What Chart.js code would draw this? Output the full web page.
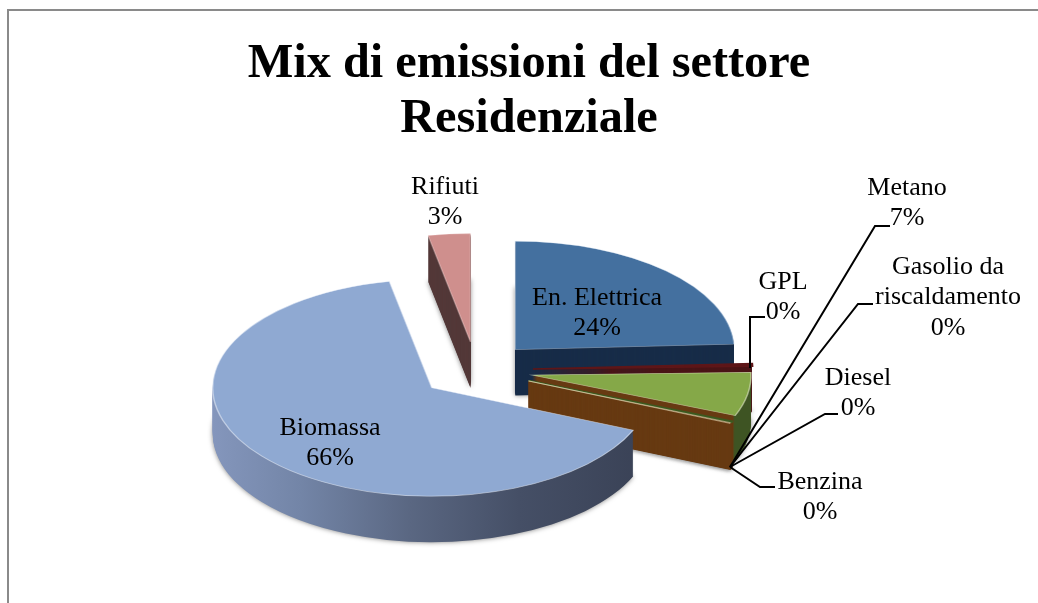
<!DOCTYPE html>
<html lang="it">
<head>
<meta charset="utf-8">
<title>Mix di emissioni del settore Residenziale</title>
<script src="https://cdn.jsdelivr.net/npm/chart.js@4"></script>
<style>html,body{margin:0;padding:0;background:#fff;overflow:hidden}canvas{display:block}</style>
</head>
<body>
<canvas id="c" width="1038" height="603"></canvas>
<script>
const titleLines = ['Mix di emissioni del settore', 'Residenziale'];
const categories = ['En. Elettrica', 'GPL', 'Metano', 'Gasolio da riscaldamento', 'Diesel', 'Benzina', 'Biomassa', 'Rifiuti'];
const values = [24.2, 0.4, 6.5, 0.1, 0.1, 0.1, 65.5, 3.1];
const topColors = ['#44709f', '#5e1618', '#85a848', '#3c5a20', '#3c5a20', '#5f3a14', '#8fa9d2', '#cf8f8d'];
const wallColors = ['#172c48', '#4a1416', null, '#673a12', '#673a12', '#673a12', null, '#533838'];
const metanoWallStops = [[0, '#673a12'], [0.915, '#673a12'], [0.925, '#3e5423'], [1, '#3e5423']];
const biomassaWallStops = [[0, '#8496bc'], [0.2, '#7385a7'], [0.45, '#5a6782'], [0.7, '#454f66'], [1, '#394155']];
const rimColors = ['rgba(220,230,245,.45)', '#5e1618', 'rgba(235,240,210,.55)', '#3c5a20', '#3c5a20', 'rgba(240,225,190,.7)', 'rgba(235,240,250,.55)', 'rgba(255,235,235,.3)'];
const rimWidths = [1.5, 3, 1.5, 3, 3, 1, 1.5, 1.5];
const wallRimWidths = [0, 0, 0, 2, 2, 2, 0, 0];
const labelLines = [['En. Elettrica', '24%'], ['GPL', '0%'], ['Metano', '7%'], ['Gasolio da', 'riscaldamento', '0%'], ['Diesel', '0%'], ['Benzina', '0%'], ['Biomassa', '66%'], ['Rifiuti', '3%']];
const labelAnchors = [[597, 298], [783, 282], [907, 188], [948, 267], [858, 378], [820, 482], [330, 428], [445, 187]];
const leaderPaths = [null, [[750, 368], [750, 317], [765, 317]], [[730, 467], [875, 226], [890, 226]], [[730, 467], [858, 304], [873, 304]], [[730, 467], [825, 414], [838, 414]], [[730, 467], [760, 487], [775, 487]], null, null];
const scene = {cx: 476, cy: 370, squash: 0.495, explode: 57, depth: 46, radius: 219};

const pie3d = {
  id: 'pie3d',
  beforeDraw(chart) {
    const c = chart.ctx;
    c.save();
    c.strokeStyle = '#8a8a8a';
    c.lineWidth = 2;
    c.beginPath();
    c.moveTo(8, 603); c.lineTo(8, 10); c.lineTo(1038, 10);
    c.stroke();
    c.restore();
  },
  beforeDatasetsDraw(chart) {
    const c = chart.ctx;
    const arcs = chart.getDatasetMeta(0).data;
    const order = [7, 0, 1, 2, 3, 4, 5, 6];
    order.forEach(i => {
      const arc = arcs[i];
      const base = arc.options;
      const mid = (arc.startAngle + arc.endAngle) / 2;
      const place = d => {
        c.translate(scene.cx, scene.cy + d);
        c.scale(1, scene.squash);
        c.translate(-arc.x + Math.cos(mid) * scene.explode, -arc.y + Math.sin(mid) * scene.explode);
      };
      let wall = wallColors[i];
      if (!wall && i === 6) {
        wall = c.createLinearGradient(arc.x - scene.radius, 0, arc.x + scene.radius, 0);
        biomassaWallStops.forEach(s => wall.addColorStop(s[0], s[1]));
      } else if (!wall) {
        wall = c.createLinearGradient(arc.x, 0, arc.x + scene.radius, 0);
        metanoWallStops.forEach(s => wall.addColorStop(s[0], s[1]));
      }
      arc.options = Object.assign({}, base, {backgroundColor: wall, borderColor: wall, borderWidth: wallRimWidths[i]});
      for (let d = scene.depth; d > 0; d--) {
        c.save();
        if (d === scene.depth) {
          c.shadowColor = 'rgba(0,0,0,.5)';
          c.shadowBlur = 5;
        }
        place(d);
        arc.draw(c);
        c.restore();
      }
      arc.options = base;
      c.save();
      place(0);
      arc.draw(c);
      c.restore();
    });
    return false;
  },
  afterDraw(chart) {
    const c = chart.ctx;
    c.save();
    c.strokeStyle = '#000';
    c.lineWidth = 2;
    c.lineJoin = 'miter';
    leaderPaths.forEach(p => {
      if (!p) return;
      c.beginPath();
      p.forEach((q, k) => k ? c.lineTo(q[0], q[1]) : c.moveTo(q[0], q[1]));
      c.stroke();
    });
    c.fillStyle = '#000';
    c.font = '26px "Liberation Serif"';
    c.textAlign = 'center';
    c.textBaseline = 'middle';
    labelLines.forEach((lines, i) => {
      lines.forEach((t, k) => c.fillText(t, labelAnchors[i][0], labelAnchors[i][1] + k * 30.5));
    });
    c.restore();
  }
};

new Chart(document.getElementById('c'), {
  type: 'pie',
  data: {
    labels: categories,
    datasets: [{
      data: values,
      backgroundColor: topColors,
      borderColor: rimColors,
      borderWidth: rimWidths,
      borderJoinStyle: 'miter'
    }]
  },
  options: {
    responsive: false,
    animation: false,
    radius: scene.radius,
    layout: {padding: {left: 20}},
    plugins: {
      legend: {display: false},
      tooltip: {enabled: false},
      title: {
        display: true,
        text: titleLines,
        color: '#000',
        font: {family: '"Liberation Serif"', size: 48.3, weight: 'bold', lineHeight: 1.14},
        padding: {top: 37, bottom: 10}
      }
    }
  },
  plugins: [pie3d]
});
</script>
</body>
</html>
